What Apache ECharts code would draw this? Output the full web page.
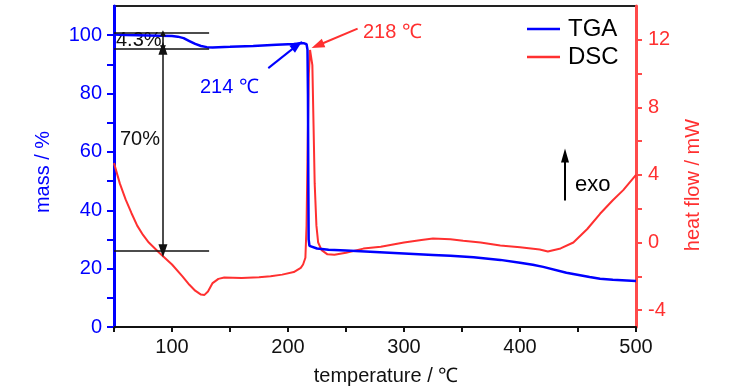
<!DOCTYPE html>
<html><head><meta charset="utf-8">
<script src="https://cdn.jsdelivr.net/npm/echarts@6/dist/echarts.min.js"></script>
<style>html,body{margin:0;padding:0;background:#fff}#c{width:729px;height:390px}</style>
</head><body><div id="c"></div>
<script>
// ---- data ----
const tgaTemp = [50,60,80,100,105,110,115,120,125,130,135,150,170,190,205,212,214,216,216.8,217.2,217.5,217.8,218.5,220,225,235,250,275,300,325,340,360,383,400,411,420,440,460,469,480,500];
const tgaMass = [100.2,100.1,99.9,99.7,99.5,99.0,98.0,97.0,96.3,95.9,95.8,96.0,96.3,96.7,97.0,97.2,97.2,96.9,95.0,80,50,30,27.8,27.3,26.9,26.5,26.2,25.7,25.2,24.7,24.4,23.9,23.0,22.0,21.3,20.6,18.6,17.1,16.5,16.2,15.8];
const dscTemp = [50,55,60,65,70,75,80,89,100,109,115,120,125,128,131,135,140,145,160,175,185,195,205,211,213,215,216,217,218,219,220,221,222,223,224.5,226,229,234,240,250,265,280,300,315,325,340,351,366,383,400,417,424,435,446,458,469,480,489,500];
const dscHeat = [4.7,3.5,2.55,1.75,1.0,0.45,0.0,-0.6,-1.3,-2.0,-2.5,-2.85,-3.08,-3.1,-2.9,-2.4,-2.15,-2.07,-2.1,-2.05,-2.0,-1.9,-1.75,-1.5,-1.3,-0.9,1,6,10,11.4,11.5,10.5,7,3.5,1,0,-0.45,-0.7,-0.72,-0.6,-0.36,-0.25,0.0,0.15,0.24,0.2,0.1,0.0,-0.18,-0.28,-0.41,-0.53,-0.35,0.0,0.8,1.7,2.5,3.1,4.0];
const xTickLabels = [100,200,300,400,500];
const xTickMarks = [50,100,150,200,250,300,350,400,450,500];
const massTickLabels = [0,20,40,60,80,100];
const massTickMarks = [0,10,20,30,40,50,60,70,80,90,100];
const heatTickLabels = [-4,0,4,8,12];
const heatTickMarks = [-4,-2,0,2,4,6,8,10,12];
// annotation guide lines (data coordinates)
const stepLevels = [100.7, 95.5, 26.1];
const stepLineEnd = 132;
const arrowTemp = 92.2;
const blueArrow = [[183,88.7],[208,96.6]];
const redArrow = [[260,12.66],[225.5,11.66]];
const exoArrow = [[438.8,2.49],[438.8,5.15]];

const BLUE = '#0000ff', RED = '#ff3030', RED_AX = '#ff4a4a';
const FONT = 'Liberation Sans, Arial, sans-serif';
const zip = (a,b) => a.map((v,i)=>[v,b[i]]);
const tri = (s) => ({symbol:'triangle', symbolSize:s});
const none = {symbol:'none'};

const chart = echarts.init(document.getElementById('c'), null, {renderer:'canvas'});
chart.setOption({
  animation:false,
  backgroundColor:'#ffffff',
  textStyle:{fontFamily:FONT},
  grid:{left:114, right:93, top:6, bottom:63, show:true, borderColor:'#222', borderWidth:2, backgroundColor:'transparent'},
  legend:{
    data:[{name:'TGA', icon:'rect'},{name:'DSC', icon:'rect'}], orient:'vertical', left:522, top:12, itemWidth:33, itemHeight:2.5, itemGap:4,
    textStyle:{fontSize:24, color:'#000', fontFamily:FONT, padding:[0,0,0,3]}
  },
  xAxis:{
    type:'value', min:50, max:500,
    axisLine:{lineStyle:{color:'#111', width:2}},
    axisTick:{show:true, customValues:xTickMarks, length:5, lineStyle:{color:'#111', width:2}},
    axisLabel:{customValues:xTickLabels, color:'#111', fontSize:20, margin:10, fontFamily:FONT},
    splitLine:{show:false}
  },
  yAxis:[
    {type:'value', min:0, max:110, position:'left',
     axisLine:{show:true, lineStyle:{color:BLUE, width:3}},
     axisTick:{show:true, customValues:massTickMarks, length:7, lineStyle:{color:BLUE, width:2}},
     axisLabel:{customValues:massTickLabels, color:BLUE, fontSize:20, margin:12, fontFamily:FONT},
     splitLine:{show:false}},
    {type:'value', min:-5, max:14, position:'right',
     axisLine:{show:true, lineStyle:{color:RED_AX, width:3}},
     axisTick:{show:true, customValues:heatTickMarks, length:6, lineStyle:{color:RED_AX, width:2}},
     axisLabel:{customValues:heatTickLabels, color:RED, fontSize:20, margin:12, fontFamily:FONT},
     splitLine:{show:false}}
  ],
  series:[
    {name:'DSC', type:'line', yAxisIndex:1, data:zip(dscTemp,dscHeat), showSymbol:false, symbol:'none',
     lineStyle:{color:RED, width:2}, itemStyle:{color:RED}, z:2,
     markLine:{silent:true, animation:false, label:{show:false},
       data:[
         [{coord:redArrow[0], ...none},{coord:redArrow[1], ...tri([9,13])}],
       ],
       lineStyle:{color:RED, width:2, type:'solid'}}},
    {name:'TGA', type:'line', yAxisIndex:0, data:zip(tgaTemp,tgaMass), showSymbol:false, symbol:'none',
     lineStyle:{color:BLUE, width:2.5}, itemStyle:{color:BLUE}, z:3,
     markLine:{silent:true, animation:false, label:{show:false},
       data:[
         [{coord:blueArrow[0], ...none},{coord:blueArrow[1], ...tri([9,13]), lineStyle:{color:BLUE,width:2}}],
       ],
       lineStyle:{color:BLUE, width:2, type:'solid'}}},
    {name:'guides', type:'line', yAxisIndex:0, data:[], symbol:'none', z:4,
     markLine:{silent:true, animation:false, label:{show:false},
       lineStyle:{color:'#111', width:1.5, type:'solid'},
       data:[
         ...stepLevels.map(v=>[{coord:[50,v], ...none},{coord:[stepLineEnd,v], ...none}]),
         [{coord:[arrowTemp,stepLevels[0]], ...tri([6,6])},{coord:[arrowTemp,stepLevels[1]], ...tri([6,6])}],
         [{coord:[arrowTemp,stepLevels[1]], ...tri([9,13])},{coord:[arrowTemp,stepLevels[2]], ...tri([9,13])}]
       ]}},
    {name:'exo', type:'line', yAxisIndex:1, data:[], symbol:'none', z:4,
     markLine:{silent:true, animation:false, label:{show:false},
       lineStyle:{color:'#000', width:2, type:'solid'},
       data:[[{coord:exoArrow[0], ...none},{coord:exoArrow[1], ...tri([8,14])}]]}}
  ],
  graphic:[
    {type:'text', left:116, top:30, style:{text:'4.3%', fontSize:20, fill:'#111', fontFamily:FONT}},
    {type:'text', left:120, top:129, style:{text:'70%', fontSize:20, fill:'#111', fontFamily:FONT}},
    {type:'text', left:200, top:77, style:{text:'214 ℃', fontSize:20, fill:BLUE, fontFamily:FONT}},
    {type:'text', left:363, top:22, style:{text:'218 ℃', fontSize:20, fill:RED, fontFamily:FONT}},
    {type:'text', left:575, top:174, style:{text:'exo', fontSize:22, fill:'#000', fontFamily:FONT}},
    {type:'text', x:386, y:376, style:{text:'temperature / ℃', fontSize:20, fill:'#111', fontFamily:FONT, align:'center', verticalAlign:'middle'}},
    {type:'text', x:43, y:172, rotation:Math.PI/2, style:{text:'mass / %', fontSize:20, fill:BLUE, fontFamily:FONT, align:'center', verticalAlign:'middle'}},
    {type:'text', x:693, y:185, rotation:Math.PI/2, style:{text:'heat flow / mW', fontSize:20, fill:RED, fontFamily:FONT, align:'center', verticalAlign:'middle'}}
  ]
});
</script></body></html>
